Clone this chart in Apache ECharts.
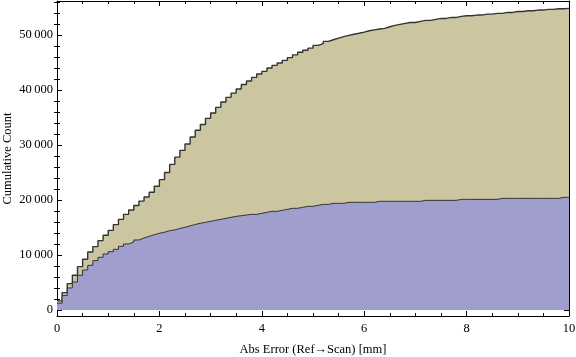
<!DOCTYPE html>
<html>
<head>
<meta charset="utf-8">
<script src="https://cdn.jsdelivr.net/npm/echarts@6/dist/echarts.min.js"></script>
<style>html,body{margin:0;padding:0;background:#fff;}#c{width:576px;height:357px;}</style>
</head>
<body>
<div id="c"></div>
<script>
// Histogram bins: width 0.1 mm from 0 to 10
const binWidth = 0.1;
const binCount = 100;
// Cumulative counts (tan, upper series)
const tanCounts = [
  1650, 3150, 4790, 6300, 7880, 9210, 10550, 11520, 12610, 13580,
  14480, 15520, 16480, 17390, 18180, 19000, 19800, 20550, 21420, 22500,
  23700, 25000, 26480, 27800, 29030, 30200, 31450, 32680, 33730, 34850,
  35820, 36850, 37820, 38670, 39450, 40180, 41000, 41640, 42300, 42910,
  43400, 44000, 44490, 44910, 45400, 45900, 46400, 46880, 47250, 47620,
  48120, 48460, 48850, 49150, 49450, 49720, 49950, 50150, 50330, 50550,
  50790, 50950, 51100, 51230, 51510, 51760, 51940, 52120, 52300, 52300,
  52490, 52670, 52670, 52850, 53030, 53030, 53210, 53210, 53400, 53520,
  53520, 53640, 53640, 53820, 53820, 53940, 53940, 54120, 54120, 54300,
  54300, 54420, 54420, 54550, 54550, 54670, 54670, 54780, 54780, 54850
];
// Cumulative counts (blue, lower series)
const blueCounts = [
  1230, 2620, 4000, 5090, 6300, 7270, 8120, 8970, 9580, 10180,
  10610, 11030, 11580, 12000, 12360, 12730, 13090, 13390, 13680, 13960,
  14140, 14420, 14550, 14830, 15030, 15300, 15550, 15760, 15940, 16120,
  16300, 16480, 16670, 16850, 17030, 17150, 17270, 17390, 17390, 17580,
  17760, 17940, 17940, 18120, 18300, 18490, 18490, 18670, 18850, 18850,
  19030, 19210, 19210, 19390, 19390, 19390, 19580, 19580, 19580, 19580,
  19580, 19580, 19760, 19760, 19760, 19760, 19760, 19760, 19760, 19760,
  19760, 19940, 19940, 19940, 19940, 19940, 19940, 19940, 20120, 20120,
  20120, 20120, 20120, 20120, 20120, 20120, 20300, 20300, 20300, 20300,
  20300, 20300, 20300, 20300, 20300, 20300, 20300, 20300, 20490, 20490
];
const yMajorTicks = [0, 10000, 20000, 30000, 40000, 50000];
const yMajorLabels = ['0', '10\u2009000', '20\u2009000', '30\u2009000', '40\u2009000', '50\u2009000'];
const yMinorTicks = [2000, 4000, 6000, 8000, 12000, 14000, 16000, 18000, 22000, 24000, 26000, 28000,
  32000, 34000, 36000, 38000, 42000, 44000, 46000, 48000, 52000, 54000, 56000];
const xTickLabels = ['0', '2', '4', '6', '8', '10'];
const xTitle = 'Abs Error (Ref\u2192Scan) [mm]';
const yTitle = 'Cumulative Count';

function toSteps(counts) {
  const pts = counts.map((v, i) => [Math.round(i * binWidth * 10) / 10, v]);
  pts.push([binCount * binWidth, counts[counts.length - 1]]);
  return pts;
}

const font = '"Liberation Serif", "Times New Roman", serif';
const yMin = -1100, yMax = 56200;
const chart = echarts.init(document.getElementById('c'));
const lineC = '#000';
const baseY = {
  type: 'value', min: yMin, max: yMax, splitLine: {show: false},
  axisLine: {show: true, onZero: false, lineStyle: {color: lineC, width: 1}},
  axisLabel: {show: false}
};
chart.setOption({
  animation: false,
  grid: {left: 57, right: 7, top: 1, bottom: 41, containLabel: false, outerBoundsMode: 'none'},
  xAxis: [
    {
      type: 'value', min: 0, max: 10, interval: 2, position: 'bottom',
      name: xTitle, nameLocation: 'middle', nameGap: 27, nameMoveOverlap: false,
      nameTextStyle: {fontFamily: font, fontSize: 12.5, color: '#000'},
      axisLine: {show: true, onZero: false, lineStyle: {color: lineC, width: 1}},
      axisTick: {inside: true, length: 5, lineStyle: {color: lineC}},
      minorTick: {show: true, splitNumber: 4, length: 3, lineStyle: {color: lineC}},
      axisLabel: {fontFamily: font, fontSize: 12.5, color: '#000', margin: 6,
        formatter: v => xTickLabels[Math.round(v / 2)]},
      splitLine: {show: false}, minorSplitLine: {show: false}
    },
    {
      type: 'value', min: 0, max: 10, interval: 2, position: 'top',
      axisLine: {show: true, onZero: false, lineStyle: {color: lineC, width: 1}},
      axisTick: {inside: true, length: 5, lineStyle: {color: lineC}},
      minorTick: {show: true, splitNumber: 4, length: 3, lineStyle: {color: lineC}},
      axisLabel: {show: false}, splitLine: {show: false}
    }
  ],
  yAxis: [
    Object.assign({}, baseY, {
      position: 'left',
      name: yTitle, nameLocation: 'middle', nameGap: 43, nameMoveOverlap: false,
      nameTextStyle: {fontFamily: font, fontSize: 12.5, color: '#000'},
      axisTick: {inside: true, length: 5, customValues: yMajorTicks, lineStyle: {color: lineC}},
      axisLabel: {show: true, fontFamily: font, fontSize: 12.5, color: '#000', margin: 4,
        customValues: yMajorTicks,
        formatter: v => yMajorLabels[yMajorTicks.indexOf(v)]}
    }),
    Object.assign({}, baseY, {
      position: 'left', axisLine: {show: false},
      axisTick: {inside: true, length: 3, customValues: yMinorTicks, lineStyle: {color: lineC}}
    }),
    Object.assign({}, baseY, {
      position: 'right',
      axisTick: {inside: true, length: 5, customValues: yMajorTicks, lineStyle: {color: lineC}}
    }),
    Object.assign({}, baseY, {
      position: 'right', axisLine: {show: false},
      axisTick: {inside: true, length: 3, customValues: yMinorTicks, lineStyle: {color: lineC}}
    })
  ],
  series: [
    {
      type: 'line', step: 'end', data: toSteps(tanCounts), symbol: 'none',
      xAxisIndex: 0, yAxisIndex: 0,
      lineStyle: {color: '#333', width: 1.4},
      areaStyle: {color: '#CBC6A0', opacity: 1, origin: 0},
      z: 1
    },
    {
      type: 'line', step: 'end', data: toSteps(blueCounts), symbol: 'none',
      xAxisIndex: 0, yAxisIndex: 0,
      lineStyle: {color: '#333', width: 1},
      areaStyle: {color: '#A09ECC', opacity: 1, origin: 0},
      z: 2
    }
  ]
});
</script>
</body>
</html>
